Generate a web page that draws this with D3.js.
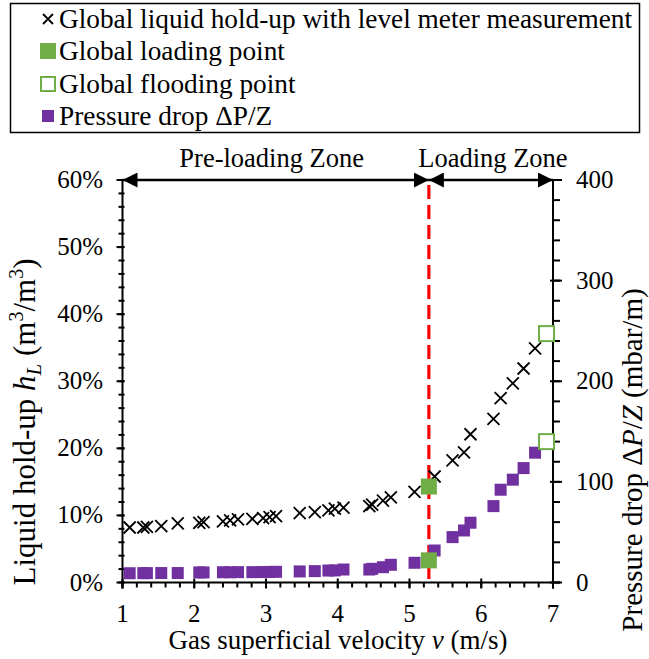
<!DOCTYPE html>
<html>
<head>
<meta charset="utf-8">
<script src="https://cdn.jsdelivr.net/npm/d3@7"></script>
<style>
  html, body { margin: 0; padding: 0; background: #fff; }
  svg { display: block; }
  svg text { font-family: "Liberation Serif", "Times New Roman", "DejaVu Serif", serif; }
</style>
</head>
<body>
<svg id="chart" width="649" height="659"></svg>
<script>
// Gas superficial velocity (m/s) shared by both measured series
const velocity = [1.10, 1.29, 1.34, 1.54, 1.77, 2.07, 2.13, 2.40, 2.50, 2.61, 2.81, 2.96, 3.05, 3.14,
  3.47, 3.68, 3.87, 3.96, 4.08, 4.44, 4.48, 4.63, 4.74, 5.07, 5.35, 5.60, 5.76, 5.85, 6.17, 6.27,
  6.44, 6.59, 6.75];
// Global liquid hold-up (fraction, m3/m3) from level meter
const holdUp = [0.082, 0.082, 0.083, 0.084, 0.088, 0.089, 0.090, 0.091, 0.0925, 0.094, 0.095, 0.096,
  0.0975, 0.099, 0.1035, 0.105, 0.1075, 0.110, 0.1115, 0.114, 0.116, 0.122, 0.127, 0.135, 0.158,
  0.182, 0.194, 0.221, 0.244, 0.275, 0.297, 0.319, 0.349];
// Pressure drop per unit height (mbar/m)
const pressureDrop = [9.2, 9.3, 9.3, 9.4, 9.4, 10.0, 10.0, 10.2, 10.2, 10.3, 10.3, 10.4, 10.5, 10.6,
  11.0, 11.3, 11.9, 12.0, 12.9, 12.9, 13.6, 15.2, 17.6, 19.6, 31.8, 45.1, 51.7, 59.4, 75.9, 92.2,
  102.2, 113.7, 129.0];
// Loading point [velocity, hold-up, pressure drop]
const loadingPoint = [5.27, 0.143, 22];
// Flooding point [velocity, hold-up, pressure drop]
const floodingPoint = [6.91, 0.371, 140];
// Tick values
const xTicks = [1, 2, 3, 4, 5, 6, 7];
const leftTicks = [0, 0.1, 0.2, 0.3, 0.4, 0.5, 0.6];
const rightTicks = [0, 100, 200, 300, 400];
const zoneLabels = ["Pre-loading Zone", "Loading Zone"];

const purple = "#7030A0", green = "#70AD47";
const svg = d3.select("#chart");

const x = d3.scaleLinear().domain([1, 7]).range([122.5, 553]);
const yL = d3.scaleLinear().domain([0, 0.6]).range([582.5, 180]);
const yR = d3.scaleLinear().domain([0, 400]).range([582.5, 180]);

const axisG = svg.append("g").attr("stroke", "#000").attr("stroke-width", 2);

// Axis lines
axisG.append("line").attr("x1", x(1)).attr("x2", x(7) + 7).attr("y1", yL(0)).attr("y2", yL(0));
axisG.append("line").attr("x1", x(1)).attr("x2", x(1)).attr("y1", yL(0) + 6).attr("y2", yL(0.6));
axisG.append("line").attr("x1", x(7)).attr("x2", x(7)).attr("y1", yR(0) + 6).attr("y2", yR(400));

// X ticks: major cross the axis, minor below
const xMinor = d3.range(1, 7.001, 0.2);
axisG.selectAll(".xm").data(xMinor).join("line")
  .attr("x1", d => x(d)).attr("x2", d => x(d)).attr("y1", yL(0)).attr("y2", yL(0) + 5);
axisG.selectAll(".xM").data(xTicks).join("line")
  .attr("x1", d => x(d)).attr("x2", d => x(d)).attr("y1", yL(0) - 4).attr("y2", yL(0) + 6);

// Left ticks
const lMinor = d3.range(0, 0.6001, 0.02);
axisG.selectAll(".lm").data(lMinor).join("line")
  .attr("x1", x(1) - 4).attr("x2", x(1) + 2).attr("y1", d => yL(d)).attr("y2", d => yL(d));
axisG.selectAll(".lM").data(leftTicks).join("line")
  .attr("x1", x(1) - 6).attr("x2", x(1) + 2).attr("y1", d => yL(d)).attr("y2", d => yL(d));

// Right ticks
const rMinor = d3.range(0, 400.01, 20);
axisG.selectAll(".rm").data(rMinor).join("line")
  .attr("x1", x(7)).attr("x2", x(7) + 7).attr("y1", d => yR(d)).attr("y2", d => yR(d));
axisG.selectAll(".rM").data(rightTicks).join("line")
  .attr("x1", x(7) - 3).attr("x2", x(7) + 9).attr("y1", d => yR(d)).attr("y2", d => yR(d));

// Tick labels
const fs = 25;
svg.selectAll(".xl").data(xTicks).join("text")
  .attr("x", d => x(d)).attr("y", 622).attr("text-anchor", "middle")
  .attr("font-size", fs).text(d => d);
svg.selectAll(".ll").data(leftTicks).join("text")
  .attr("x", 103).attr("y", d => yL(d) + 8).attr("text-anchor", "end")
  .attr("font-size", fs).text(d => d3.format(".0%")(d));
svg.selectAll(".rl").data(rightTicks).join("text")
  .attr("x", 576).attr("y", d => yR(d) + 8).attr("text-anchor", "start")
  .attr("font-size", fs).text(d => d);

// Axis titles
const xt = svg.append("text").attr("x", 338).attr("y", 649).attr("text-anchor", "middle").attr("font-size", 27);
xt.append("tspan").text("Gas superficial velocity ");
xt.append("tspan").attr("font-style", "italic").text("v");
xt.append("tspan").text(" (m/s)");

const lt = svg.append("text").attr("transform", "translate(35,422) rotate(-90)")
  .attr("text-anchor", "middle").attr("font-size", 31);
lt.append("tspan").text("Liquid hold-up ");
lt.append("tspan").attr("font-style", "italic").text("h");
lt.append("tspan").attr("font-style", "italic").attr("font-size", 21).attr("dy", 6).text("L");
lt.append("tspan").attr("dy", -6).text(" (m");
lt.append("tspan").attr("font-size", 20).attr("dy", -12).text("3");
lt.append("tspan").attr("dy", 12).text("/m");
lt.append("tspan").attr("font-size", 20).attr("dy", -12).text("3");
lt.append("tspan").attr("dy", 12).text(")");

const rt = svg.append("text").attr("transform", "translate(642,460) rotate(-90)")
  .attr("text-anchor", "middle").attr("font-size", 29);
rt.append("tspan").text("Pressure drop Δ");
rt.append("tspan").attr("font-style", "italic").text("P");
rt.append("tspan").text("/");
rt.append("tspan").attr("font-style", "italic").text("Z");
rt.append("tspan").text(" (mbar/m)");

// Loading line
svg.append("line")
  .attr("x1", x(loadingPoint[0])).attr("x2", x(loadingPoint[0]))
  .attr("y1", yL(0.6) + 5).attr("y2", yL(0))
  .attr("stroke", "#FF0000").attr("stroke-width", 3.2).attr("stroke-dasharray", "14,6");

// Zone arrows
const defs = svg.append("defs");
defs.append("marker").attr("id", "ah").attr("viewBox", "0 0 10 10").attr("refX", 10).attr("refY", 5)
  .attr("markerWidth", 6).attr("markerHeight", 6).attr("markerUnits", "strokeWidth")
  .attr("orient", "auto-start-reverse")
  .append("path").attr("d", "M0,0 L10,5 L0,10 Z").attr("fill", "#000");
const ay = yL(0.6);
const zones = [[1, loadingPoint[0]], [loadingPoint[0], 7]];
svg.selectAll(".zone").data(zones).join("line")
  .attr("x1", d => x(d[0])).attr("x2", d => x(d[1])).attr("y1", ay).attr("y2", ay)
  .attr("stroke", "#000").attr("stroke-width", 2.5)
  .attr("marker-start", "url(#ah)").attr("marker-end", "url(#ah)");
svg.selectAll(".zl").data(zones).join("text")
  .attr("x", (d, i) => i === 0 ? (x(d[0]) + x(d[1])) / 2 - 4 : (x(d[0]) + x(d[1])) / 2 + 2)
  .attr("y", 167).attr("text-anchor", "middle").attr("font-size", 26.5)
  .text((d, i) => zoneLabels[i]);

// Pressure drop squares
const ps = 12;
svg.selectAll(".pd").data(velocity).join("rect")
  .attr("x", (d) => x(d) - ps / 2).attr("y", (d, i) => yR(pressureDrop[i]) - ps / 2)
  .attr("width", ps).attr("height", ps).attr("fill", purple);

// Hold-up crosses
const cs = 6;
svg.selectAll(".hu").data(velocity).join("path")
  .attr("transform", (d, i) => `translate(${x(d)},${yL(holdUp[i])})`)
  .attr("d", `M${-cs},${-cs}L${cs},${cs}M${-cs},${cs}L${cs},${-cs}`)
  .attr("stroke", "#000").attr("stroke-width", 1.8).attr("fill", "none");

// Loading point markers
const gs = 16;
svg.selectAll(".lp").data([yL(loadingPoint[1]), yR(loadingPoint[2])]).join("rect")
  .attr("x", x(loadingPoint[0]) - gs / 2).attr("y", d => d - gs / 2)
  .attr("width", gs).attr("height", gs).attr("fill", green);

// Flooding point markers
const fsq = 15;
svg.selectAll(".fp").data([yL(floodingPoint[1]), yR(floodingPoint[2])]).join("rect")
  .attr("x", x(floodingPoint[0]) - fsq / 2).attr("y", d => d - fsq / 2)
  .attr("width", fsq).attr("height", fsq).attr("fill", "#fff")
  .attr("stroke", green).attr("stroke-width", 2);

// Legend
const lg = svg.append("g");
lg.append("rect").attr("x", 10.5).attr("y", 3.5).attr("width", 629).attr("height", 129)
  .attr("fill", "#fff").attr("stroke", "#000").attr("stroke-width", 1.5);
const legendItems = ["Global liquid hold-up with level meter measurement", "Global loading point",
  "Global flooding point", "Pressure drop ΔP/Z"];
const rowY = [19, 51, 84, 116];
lg.selectAll(".lt").data(legendItems).join("text")
  .attr("x", 59).attr("y", (d, i) => rowY[i] + 9).attr("font-size", 27.3).text(d => d);
lg.append("path").attr("transform", `translate(48,${rowY[0]})`)
  .attr("d", "M-5,-5L5,5M-5,5L5,-5").attr("stroke", "#000").attr("stroke-width", 1.8);
lg.append("rect").attr("x", 40).attr("y", rowY[1] - 8).attr("width", 16).attr("height", 16).attr("fill", green);
lg.append("rect").attr("x", 41).attr("y", rowY[2] - 7).attr("width", 14).attr("height", 14)
  .attr("fill", "#fff").attr("stroke", green).attr("stroke-width", 2);
lg.append("rect").attr("x", 42).attr("y", rowY[3] - 6).attr("width", 12).attr("height", 12).attr("fill", purple);
</script>
</body>
</html>
